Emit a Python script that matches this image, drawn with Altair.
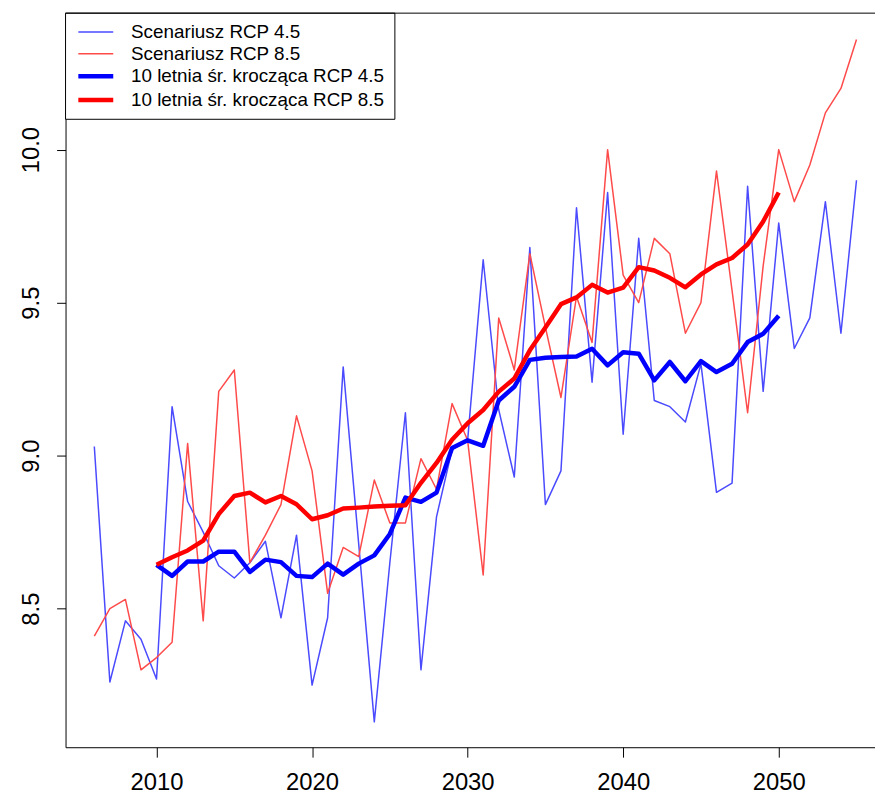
import altair as alt
import pandas as pd

years = list(range(2006, 2056))
rcp45 = [9.03, 8.26, 8.46, 8.40, 8.27, 9.16, 8.85, 8.75, 8.64, 8.60,
         8.65, 8.72, 8.47, 8.74, 8.25, 8.47, 9.29, 8.71, 8.13, 8.65,
         9.14, 8.30, 8.80, 9.02, 9.05, 9.64, 9.15, 8.93, 9.68, 8.84,
         8.95, 9.81, 9.24, 9.86, 9.07, 9.71, 9.18, 9.16, 9.11, 9.30,
         8.88, 8.91, 9.88, 9.21, 9.76, 9.35, 9.45, 9.83, 9.40, 9.90]
rcp85 = [8.41, 8.50, 8.53, 8.30, 8.34, 8.39, 9.04, 8.46, 9.21, 9.28,
         8.65, 8.74, 8.84, 9.13, 8.95, 8.55, 8.70, 8.67, 8.92, 8.78,
         8.78, 8.99, 8.89, 9.17, 9.05, 8.61, 9.45, 9.28, 9.66, 9.42,
         9.19, 9.52, 9.37, 10.00, 9.59, 9.50, 9.71, 9.66, 9.40, 9.50,
         9.93, 9.54, 9.14, 9.62, 10.00, 9.83, 9.95, 10.12, 10.20, 10.36]

ma_years = list(range(2010, 2051))
ma45 = [8.643, 8.607, 8.654, 8.654, 8.686, 8.686, 8.620, 8.660, 8.652, 8.607,
        8.603, 8.647, 8.611, 8.647, 8.674, 8.744, 8.863, 8.849, 8.879, 9.025,
        9.050, 9.032, 9.180, 9.225, 9.313, 9.320, 9.322, 9.324, 9.349, 9.295,
        9.338, 9.333, 9.246, 9.306, 9.243, 9.309, 9.273, 9.300, 9.371, 9.398,
        9.457]
ma85 = [8.643, 8.668, 8.690, 8.722, 8.809, 8.868, 8.879, 8.847, 8.868, 8.841,
        8.792, 8.805, 8.827, 8.830, 8.834, 8.836, 8.838, 8.911, 8.976, 9.052,
        9.106, 9.149, 9.209, 9.252, 9.344, 9.419, 9.495, 9.517, 9.558, 9.533,
        9.549, 9.616, 9.605, 9.581, 9.550, 9.592, 9.625, 9.646, 9.690, 9.765,
        9.860]

thin_names = ["Scenariusz RCP 4.5", "Scenariusz RCP 8.5"]
thick_names = ["10 letnia śr. krocząca RCP 4.5", "10 letnia śr. krocząca RCP 8.5"]
thin_colors = ["#4a4aff", "#ff4a4a"]
thick_colors = ["#0000ff", "#ff0000"]

x_ticks = [2010, 2020, 2030, 2040, 2050]
y_ticks = [8.5, 9.0, 9.5, 10.0]

thin = pd.concat([
    pd.DataFrame({"year": years, "value": rcp45, "series": thin_names[0]}),
    pd.DataFrame({"year": years, "value": rcp85, "series": thin_names[1]}),
])
thick = pd.concat([
    pd.DataFrame({"year": ma_years, "value": ma45, "series": thick_names[0]}),
    pd.DataFrame({"year": ma_years, "value": ma85, "series": thick_names[1]}),
])

FONT = "Liberation Sans"
W, H = 816, 740
LEG_W, LEG_H = 332, 107

def make_legend(x, y, sw, off):
    return alt.Legend(
        title=None, orient="none", legendX=x, legendY=y,
        symbolType="M-1.6,0H1.6", symbolSize=484, symbolStrokeWidth=sw,
        symbolFillColor="transparent",
        labelFontSize=19, labelFont=FONT, labelColor="black", labelLimit=0,
        padding=0, rowPadding=0, labelOffset=off,
    )

x_enc = alt.X("year:Q",
              scale=alt.Scale(domain=[2004.15, 2056.19], nice=False, zero=False),
              axis=alt.Axis(values=x_ticks, format="d", title=None, grid=False,
                            labelFontSize=24, labelFont=FONT, labelColor="black",
                            tickSize=10, tickColor="black", domainColor="black",
                            labelPadding=14, labelFlush=False))
y_enc = alt.Y("value:Q",
              scale=alt.Scale(domain=[8.047, 10.446], nice=False, zero=False),
              axis=alt.Axis(values=y_ticks, format=".1f", title=None, grid=False,
                            labelFontSize=24, labelFont=FONT, labelColor="black",
                            tickSize=9, tickColor="black", domainColor="black",
                            labelAngle=270, labelAlign="center", labelBaseline="bottom",
                            labelPadding=13))

thin_layer = alt.Chart(thin).mark_line(strokeJoin="round", strokeWidth=1.5).encode(
    x=x_enc, y=y_enc,
    color=alt.Color("series:N", scale=alt.Scale(domain=thin_names, range=thin_colors),
                    legend=make_legend(18.5, 7, 1.5, 23.5)))
thick_layer = alt.Chart(thick).mark_line(strokeJoin="round", strokeWidth=4.5).encode(
    x=x_enc, y=y_enc,
    stroke=alt.Stroke("series:N", scale=alt.Scale(domain=thick_names, range=thick_colors),
                      legend=make_legend(17, 50, 4.5, 22)))
legend_box = alt.Chart(pd.DataFrame({"a": [0]})).mark_rect(
    fill="white", stroke="black", strokeWidth=1).encode(
    x=alt.value(0), x2=alt.value(LEG_W), y=alt.value(0), y2=alt.value(LEG_H))
top_border = alt.Chart(pd.DataFrame({"a": [0]})).mark_rule(color="black", strokeWidth=1).encode(
    x=alt.value(0), x2=alt.value(W), y=alt.value(0))

chart = alt.layer(thin_layer, thick_layer, legend_box, top_border).properties(
    width=W, height=H,
    autosize=alt.AutoSizeParams(type="none"),
    padding={"left": 58, "top": 2, "right": 0, "bottom": 49},
    background="white",
).configure_view(stroke=None)

chart.save("out.html", embed_options={"renderer": "svg", "actions": False})
